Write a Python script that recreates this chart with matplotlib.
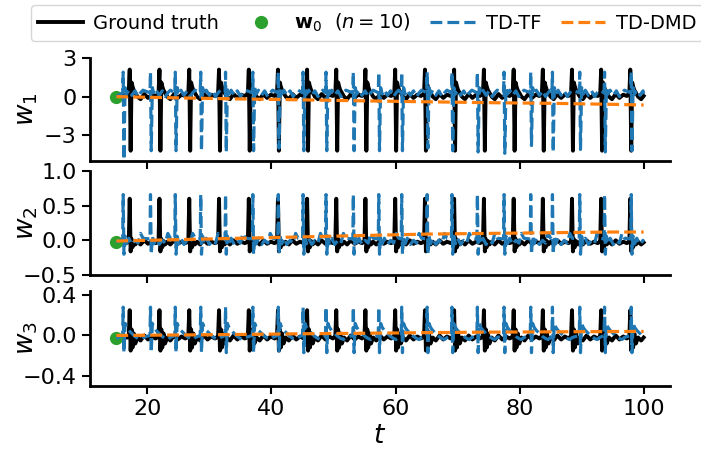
import numpy as np
import matplotlib
matplotlib.use("Agg")
import matplotlib.pyplot as plt

# spike times
gt_spikes = [17.1, 21.9, 26.7, 31.5, 36.3, 41.0, 45.7, 50.4, 55.1, 59.9,
             64.7, 69.4, 74.2, 79.0, 83.7, 88.4, 93.1, 97.8]
tf_spikes = [16.1, 20.5, 24.5, 28.6, 32.6, 37.0, 41.1, 45.1, 48.8, 53.2,
             57.3, 61.0, 65.1, 69.1, 73.2, 77.5, 81.8, 85.3, 89.7, 93.7, 98.0]

# one cycle of ground truth (offset from spike time, value)
gt_off = [-0.3, -0.1, 0.05, 0.2, 0.35, 0.5, 0.7, 0.95, 1.3, 1.8, 2.4, 3.0, 3.6, 4.2]
gt_w1 = [0.15, 0.3, 2.1, -4.2, 1.1, 0.8, 0.5, 0.3, 0.0, -0.2, 0.2, -0.1, 0.15, 0.05]
gt_w2 = [-0.03, -0.01, 0.6, -0.16, 0.02, -0.1, -0.01, -0.06, -0.02, -0.06, 0.0, -0.05, -0.02, -0.04]
gt_w3 = [-0.02, 0.0, 0.25, -0.15, 0.06, -0.12, 0.02, -0.08, -0.02, -0.05, 0.0, -0.04, -0.01, -0.03]

# one cycle of TD-TF
tf_off = [-0.08, 0.0, 0.12, 0.3, 0.55, 0.9, 1.4, 1.9, 2.4, 2.8, 3.2]
tf_w1_low = [-4.9, -4.2, -4.2, -4.2, -4.3, -4.2, -4.0, -4.2, -4.2, -4.2, -4.2,
             -4.2, -4.0, -4.2, -4.3, -4.4, -3.8, -4.3, -4.1, -4.3, -4.2]
tf_w1 = [0.3, 1.9, None, 0.7, 0.2, 0.5, 0.1, 0.45, 0.0, 0.3, 0.5]
tf_w2 = [0.02, 0.66, -0.2, 0.06, -0.05, 0.03, -0.06, 0.0, -0.04, 0.1, 0.03]
tf_w3 = [0.0, 0.28, -0.17, 0.12, 0.08, 0.05, 0.02, -0.01, -0.03, -0.04, -0.02]

# TD-DMD
dmd_t = [15, 25, 35, 45, 55, 65, 75, 85, 95, 100]
dmd_w1 = [0.0, -0.1, -0.18, -0.25, -0.33, -0.4, -0.47, -0.52, -0.6, -0.65]
dmd_w2 = [-0.01, 0.01, 0.03, 0.05, 0.07, 0.09, 0.1, 0.11, 0.12, 0.12]
dmd_w3 = [0.0, 0.005, 0.01, 0.017, 0.022, 0.028, 0.033, 0.036, 0.039, 0.04]

w0 = [0.0, -0.03, -0.03]
t0, t_end = 15, 100


def build(spikes, off, shape, start, end, lows=None):
    t = [t0]
    v = [start]
    for i, ts in enumerate(spikes):
        for o, val in zip(off, shape):
            if val is None:
                val = lows[i]
            if t0 < ts + o < t_end:
                t.append(ts + o)
                v.append(val)
    t.append(t_end)
    v.append(end)
    return np.array(t), np.array(v)


gt = [build(gt_spikes, gt_off, gt_w1, 0.0, 0.05),
      build(gt_spikes, gt_off, gt_w2, -0.03, -0.03),
      build(gt_spikes, gt_off, gt_w3, -0.03, -0.02)]
tf = [build(tf_spikes, tf_off, tf_w1, 0.0, 0.2, tf_w1_low),
      build(tf_spikes, tf_off, tf_w2, -0.03, -0.02),
      build(tf_spikes, tf_off, tf_w3, -0.03, -0.01)]
dmd = [dmd_w1, dmd_w2, dmd_w3]

ylims = [(-5, 3), (-0.5, 1.0), (-0.5, 0.44)]
yticks = [[-3, 0, 3], [-0.5, 0.0, 0.5, 1.0], [-0.4, 0.0, 0.4]]
ylabels = ['$w_1$', '$w_2$', '$w_3$']
# axes boxes in pixels (top, bottom)
boxes = [(58, 161), (171, 275), (291, 386)]

fig = plt.figure(figsize=(7.01, 4.5), dpi=100)
axes = []
for k in range(3):
    top, bot = boxes[k]
    ax = fig.add_axes([90 / 701, 1 - bot / 450, 580 / 701, (bot - top) / 450])
    axes.append(ax)
    l1, = ax.plot(gt[k][0], gt[k][1], color='black', lw=2.8, label='Ground truth')
    l2, = ax.plot([t0], [w0[k]], 'o', color='tab:green', ms=8.5,
                  label=r'$\mathbf{w}_0\ \ (n=10)$')
    l3, = ax.plot(tf[k][0], tf[k][1], '--', color='tab:blue', lw=2.3, label='TD-TF')
    l4, = ax.plot(dmd_t, dmd[k], '--', color='tab:orange', lw=2.3, label='TD-DMD')
    ax.set_xlim(10.75, 104.25)
    ax.set_ylim(*ylims[k])
    ax.set_yticks(yticks[k])
    ax.set_xticks([20, 40, 60, 80, 100])
    ax.spines['top'].set_visible(False)
    ax.spines['right'].set_visible(False)
    ax.spines['left'].set_linewidth(2)
    ax.spines['bottom'].set_linewidth(2)
    ax.tick_params(direction='out', length=6, width=1.5, labelsize=16)
    ax.set_ylabel(ylabels[k], fontsize=19)
    ax.yaxis.set_label_coords(-0.086, 0.5)
    if k < 2:
        ax.tick_params(labelbottom=False)

axes[2].set_xlabel('$t$', fontsize=19, labelpad=3)

fig.legend(handles=[l1, l2, l3, l4], loc='upper left', ncol=4,
           bbox_to_anchor=(31 / 701, 1 - 5 / 450),
           fontsize=14, handlelength=2.3, columnspacing=1.0, handletextpad=0.55,
           borderaxespad=0, borderpad=0.35)

fig.savefig('out.png', dpi=100)
